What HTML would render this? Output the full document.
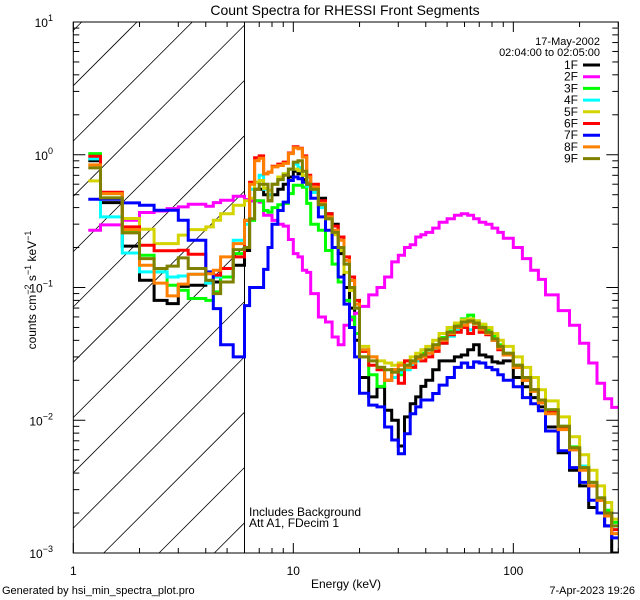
<!DOCTYPE html>
<html><head><meta charset="utf-8"><style>
html,body{margin:0;padding:0;background:#fff;width:640px;height:600px;overflow:hidden;}
svg{display:block;font-family:"Liberation Sans",sans-serif;}
</style></head><body>
<svg id="chart" width="640" height="600" viewBox="0 0 640 600" xmlns="http://www.w3.org/2000/svg" overflow="hidden">
<rect x="0" y="0" width="640" height="600" fill="#fff"/>
<defs><clipPath id="pclip"><rect x="73.3" y="22" width="545" height="531"/></clipPath></defs>
<g id="hatch"></g>
<line id="cutline" stroke="#000" stroke-width="1"/>
<g id="series" clip-path="url(#pclip)"></g>
<rect x="73.3" y="22" width="545" height="531" fill="none" stroke="#000" stroke-width="1"/>
<g id="axes"></g>
<text x="345" y="15" font-size="14" text-anchor="middle">Count Spectra for RHESSI Front Segments</text>
<text x="346" y="588" font-size="12" text-anchor="middle">Energy (keV)</text>
<text transform="translate(36,290) rotate(-90)" font-size="12" text-anchor="middle">counts cm<tspan font-size="9" dy="-5">−2</tspan><tspan dy="5"> s</tspan><tspan font-size="9" dy="-5">−1</tspan><tspan dy="5"> keV</tspan><tspan font-size="9" dy="-5">−1</tspan></text>
<text x="2" y="594" font-size="11">Generated by hsi_min_spectra_plot.pro</text>
<text x="635" y="594" font-size="11" text-anchor="end">7-Apr-2023 19:26</text>
<text x="249" y="516" font-size="12">Includes Background</text>
<text x="249" y="527" font-size="12">Att A1, FDecim 1</text>
<text x="600" y="45" font-size="11" text-anchor="end">17-May-2002</text>
<text x="600" y="56" font-size="11" text-anchor="end">02:04:00 to 02:05:00</text>
<g id="legend"></g>
</svg>
<script>
const edges=[1.17,1.33,1.67,2,2.33,2.67,3,3.33,4,4.33,4.67,5.33,6,6.33,6.67,7,7.33,7.67,8,8.5,9,9.5,10,10.5,11,11.5,12,13,14,15,16,17,18,19,20,22,24,26,28,30,32,34,36,38,40,43,46,50,54,58,62,66,70,75,80,85,90,100,110,120,130,140,160,180,200,220,240,260,280,300];
const seriesNames=["1F","2F","3F","4F","5F","6F","7F","8F","9F"];
const seriesColors=["#000000","#ff00ff","#00ff00","#00ffff","#d4d400","#ff0000","#0000ff","#ff8000","#808000"];
const s1F=[0.90,0.436,0.205,0.1135,0.080,0.0757,0.102,0.104,0.110,0.110,0.120,0.147, 0.19,0.45,0.55,0.55,0.5,0.45,0.5,0.55,0.6,0.68,0.75,0.72,0.65,0.6, 0.55,0.47,0.36,0.30,0.18,0.10,0.07,0.04, 0.021,0.015,0.0178,0.0119,0.010,0.0064,0.0106,0.0133,0.015,0.018, 0.02,0.024,0.028,0.028,0.030,0.031,0.034,0.037,0.031,0.030,0.0275,0.027, 0.028,0.021,0.0179,0.0148,0.0126,0.0089,0.0057,0.0042,0.0032,0.0022,0.002,0.0016,0.001];
const s2F=[0.27,0.296,0.321,0.367,0.377,0.393,0.405,0.424,0.409,0.436,0.454,0.487, 0.46,0.45,0.45,0.44,0.35,0.35,0.32,0.30,0.29,0.23,0.18,0.17,0.135,0.13, 0.09,0.060,0.055,0.0424,0.037,0.052,0.057,0.064, 0.072,0.088,0.10,0.12,0.156,0.175,0.20,0.21,0.24,0.25, 0.26,0.28,0.31,0.33,0.35,0.36,0.35,0.33,0.31,0.30,0.28,0.26, 0.235,0.20,0.165,0.135,0.115,0.088,0.067,0.052,0.038,0.027,0.019,0.0145,0.0125];
const s3F=[1.02,0.51,0.270,0.175,0.131,0.104,0.0953,0.0826,0.080,0.0927,0.120,0.180, 0.32,0.32,0.45,0.45,0.38,0.37,0.40,0.42,0.43,0.51,0.59,0.59,0.57,0.43, 0.30,0.27,0.19,0.15,0.11,0.08,0.06,0.045, 0.03,0.022,0.018,0.02,0.024,0.022,0.026,0.028,0.03,0.032, 0.034,0.037,0.042,0.047,0.052,0.058,0.062,0.056,0.052,0.048,0.043,0.037, 0.032,0.026,0.021,0.017,0.014,0.012,0.009,0.0063,0.0045,0.0034,0.0026,0.0021,0.0017];
const s4F=[0.93,0.340,0.182,0.131,0.131,0.120,0.122,0.126,0.108,0.120,0.139,0.227, 0.30,0.55,0.62,0.70,0.55,0.50,0.60,0.65,0.72,0.78,0.85,0.80,0.70,0.58, 0.52,0.40,0.33,0.26,0.20,0.15,0.10,0.07, 0.034,0.03,0.025,0.02,0.021,0.023,0.024,0.026,0.028,0.03, 0.032,0.034,0.038,0.043,0.048,0.052,0.048,0.053,0.049,0.045,0.04,0.035, 0.031,0.025,0.02,0.017,0.014,0.0118,0.0088,0.0061,0.0045,0.0034,0.0026,0.0019,0.0016];
const s5F=[0.635,0.473,0.331,0.275,0.214,0.214,0.248,0.273,0.286,0.321,0.360,0.417, 0.45,0.47,0.62,0.64,0.56,0.54,0.6,0.68,0.72,0.78,0.78,0.76,0.7,0.62, 0.55,0.43,0.33,0.25,0.19,0.13,0.095,0.07, 0.036,0.03,0.028,0.027,0.026,0.027,0.028,0.03,0.032,0.034, 0.036,0.04,0.045,0.05,0.054,0.057,0.058,0.056,0.053,0.05,0.045,0.04, 0.036,0.03,0.025,0.021,0.017,0.014,0.0106,0.0075,0.0055,0.0042,0.0032,0.0024,0.0018];
const s6F=[0.974,0.522,0.286,0.208,0.189,0.189,0.191,0.178,0.129,0.124,0.139,0.170, 0.32,0.62,0.95,0.98,0.72,0.74,0.82,0.85,0.88,1.03,1.15,1.12,0.98,0.7, 0.6,0.45,0.36,0.29,0.24,0.17,0.12,0.08, 0.033,0.026,0.024,0.02,0.024,0.019,0.028,0.025,0.03,0.028, 0.03,0.033,0.038,0.044,0.046,0.05,0.045,0.05,0.046,0.044,0.04,0.034, 0.031,0.025,0.02,0.017,0.0135,0.0115,0.0087,0.006,0.0043,0.0032,0.0025,0.0019,0.0015];
const s7F=[0.462,0.462,0.434,0.417,0.382,0.382,0.321,0.227,0.131,0.0694,0.037,0.030, 0.073,0.10,0.10,0.10,0.137,0.2,0.30,0.38,0.44,0.64,0.68,0.66,0.62,0.6, 0.47,0.34,0.27,0.2,0.12,0.075,0.05,0.03, 0.016,0.013,0.0126,0.0089,0.0071,0.0056,0.0079,0.0112,0.0126,0.0142, 0.0142,0.0159,0.0184,0.021,0.025,0.027,0.025,0.0275,0.027,0.025,0.024,0.022, 0.020,0.0179,0.0148,0.0133,0.0118,0.0083,0.0059,0.0044,0.0034,0.0025,0.002,0.0016,0.0013];
const s8F=[0.838,0.51,0.273,0.147,0.108,0.0865,0.106,0.126,0.127,0.135,0.170,0.214, 0.32,0.6,0.9,0.94,0.72,0.74,0.81,0.83,0.86,1.02,1.13,1.11,0.96,0.68, 0.57,0.43,0.34,0.27,0.227,0.16,0.113,0.075, 0.034,0.03,0.025,0.02,0.024,0.026,0.025,0.027,0.029,0.03, 0.032,0.035,0.04,0.045,0.05,0.052,0.055,0.053,0.048,0.045,0.04,0.035, 0.031,0.025,0.02,0.0165,0.0135,0.0112,0.0085,0.006,0.0042,0.0032,0.0025,0.0019,0.0014];
const s9F=[0.796,0.473,0.258,0.165,0.139,0.145,0.167,0.139,0.1135,0.090,0.110,0.193, 0.2,0.33,0.55,0.6,0.6,0.45,0.6,0.65,0.7,0.78,0.88,0.9,0.75,0.6, 0.55,0.42,0.33,0.26,0.20,0.15,0.10,0.07, 0.03,0.028,0.025,0.024,0.023,0.024,0.026,0.028,0.03,0.031, 0.034,0.037,0.041,0.046,0.051,0.055,0.056,0.054,0.05,0.046,0.041,0.036, 0.032,0.026,0.021,0.017,0.0142,0.012,0.009,0.0062,0.0044,0.0034,0.0026,0.002,0.0016];
const xTickLabels=["1","10","100"];
const yTickExps=["1","0","−1","−2","−3"];
const cutoffEnergy=6;

const NS="http://www.w3.org/2000/svg";
const X0=73.3,X1=618.3,Y0=22,Y1=553;
const xMinLog=0,xMaxLog=Math.log10(300),yMinLog=-3,yMaxLog=1;
function xs(e){return X0+(Math.log10(e)-xMinLog)/(xMaxLog-xMinLog)*(X1-X0);}
function ys(v){return Y1-(Math.log10(v)-yMinLog)/(yMaxLog-yMinLog)*(Y1-Y0);}
function mk(tag,attrs,parent){const el=document.createElementNS(NS,tag);for(const k in attrs)el.setAttribute(k,attrs[k]);parent.appendChild(el);return el;}

const hatch=document.getElementById('hatch');
const HX1=xs(cutoffEnergy);
for(let k=-2;k<14;k++){const c=159+55.3*k;
 const xa=Math.max(X0,c-Y1), xb=Math.min(HX1,c-Y0);
 if(xb<=xa)continue;
 const ln=mk('line',{x1:xa,y1:c-xa,x2:xb,y2:c-xb,stroke:'#000','stroke-width':0.8},hatch);
 
 }
const cl=document.getElementById('cutline');
cl.setAttribute('x1',HX1);cl.setAttribute('x2',HX1);cl.setAttribute('y1',Y0);cl.setAttribute('y2',Y1);

const ax=document.getElementById('axes');
for(let d=0;d<3;d++){for(let m=1;m<10;m++){const e=m*Math.pow(10,d);if(e>300)break;const x=xs(e);const L=m===1?10:5;
 const t1=mk('line',{x1:x,y1:Y1,x2:x,y2:Y1-L,stroke:'#000','stroke-width':1},ax);
 
 
 const t2=mk('line',{x1:x,y1:Y0,x2:x,y2:Y0+L,stroke:'#000','stroke-width':1},ax);
 
 }
 const lb=mk('text',{x:xs(Math.pow(10,d)),y:575,'font-size':12,'text-anchor':'middle'},ax);lb.textContent=xTickLabels[d];
 
 }
for(let d=-3;d<=1;d++){for(let m=1;m<10;m++){const v=m*Math.pow(10,d);if(v>10)break;const y=ys(v);const L=m===1?12:6;
 const t1=mk('line',{x1:X0,y1:y,x2:X0+L,y2:y,stroke:'#000','stroke-width':1},ax);
 
 
 const t2=mk('line',{x1:X1,y1:y,x2:X1-L,y2:y,stroke:'#000','stroke-width':1},ax);
 
 }
 const lb=mk('text',{x:53,y:ys(Math.pow(10,d))+5,'font-size':12,'text-anchor':'end'},ax);
 
 
 lb.textContent='10';const sp=mk('tspan',{'font-size':9,dy:-6},lb);sp.textContent=yTickExps[1-d];}

const allSeries=[s1F,s2F,s3F,s4F,s5F,s6F,s7F,s8F,s9F];
const sg=document.getElementById('series');
allSeries.forEach((vals,i)=>{let d='M'+xs(edges[0]).toFixed(1)+','+ys(vals[0]).toFixed(1);
 for(let j=0;j<vals.length;j++){if(j>0)d+=' V'+ys(vals[j]).toFixed(1);d+=' H'+xs(edges[j+1]).toFixed(1);}
 const p=mk('path',{d:d,fill:'none',stroke:seriesColors[i],'stroke-width':3,'stroke-linejoin':'miter'},sg);
 
 });

const lg=document.getElementById('legend');
seriesNames.forEach((n,i)=>{const y=65+i*11.7;
 const t=mk('text',{x:578,y:y+4,'font-size':12,'text-anchor':'end'},lg);t.textContent=n;
 
 
 const l=mk('line',{x1:583,y1:y,x2:600,y2:y,stroke:seriesColors[i],'stroke-width':3},lg);
 
 });
</script>
</body></html>
